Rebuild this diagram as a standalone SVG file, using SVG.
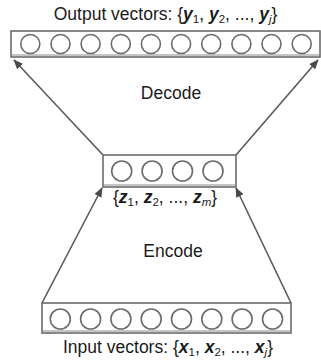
<svg xmlns="http://www.w3.org/2000/svg" width="321" height="362" viewBox="0 0 321 362">
  <style>
    .box { fill: #ffffff; stroke: #6b6b6b; stroke-width: 1.6; }
    .unit { fill: #ffffff; stroke: #6b6b6b; stroke-width: 1.6; }
    .lbl { font-family: "Liberation Sans", Arial, sans-serif; font-size: 17.5px; fill: #1a1a1a; text-anchor: middle; }
    .v { font-weight: bold; font-style: italic; }
    .sub { font-size: 11.5px; }
    .edge { stroke: #5a5a5a; stroke-width: 1.6; fill: none; marker-end: url(#arrow); }
  </style>
  <defs>
    <marker id="arrow" viewBox="0 0 12 10" refX="11" refY="5" markerWidth="10" markerHeight="8" orient="auto" markerUnits="userSpaceOnUse">
      <path d="M0,0 L12,5 L0,10 z" fill="#4a4a4a"/>
    </marker>
  </defs>

  <g id="connectors">
    <line class="edge" x1="103" y1="155" x2="14" y2="60"/>
    <line class="edge" x1="236" y1="155" x2="318" y2="60"/>
    <line class="edge" x1="42" y1="303" x2="102" y2="188"/>
    <line class="edge" x1="291" y1="303" x2="236" y2="188"/>
  </g>

  <!-- output layer -->
  <g id="output">
    <text class="lbl" x="165.5" y="20">Output vectors: {<tspan class="v">y</tspan><tspan class="sub" dy="3">1</tspan><tspan dy="-3">, </tspan><tspan class="v">y</tspan><tspan class="sub" dy="3">2</tspan><tspan dy="-3">, ..., </tspan><tspan class="v">y</tspan><tspan class="sub" font-style="italic" dy="3">j</tspan><tspan dy="-3">}</tspan></text>
    <rect class="box" x="11" y="31" width="309" height="26"/>
    <line x1="11" y1="55" x2="320" y2="55" stroke="#8a8a8a" stroke-width="1"/>
    <circle class="unit" cx="30.3" cy="44" r="9.5"/>
    <circle class="unit" cx="60.5" cy="44" r="9.5"/>
    <circle class="unit" cx="90.6" cy="44" r="9.5"/>
    <circle class="unit" cx="120.8" cy="44" r="9.5"/>
    <circle class="unit" cx="150.9" cy="44" r="9.5"/>
    <circle class="unit" cx="181.1" cy="44" r="9.5"/>
    <circle class="unit" cx="211.2" cy="44" r="9.5"/>
    <circle class="unit" cx="241.4" cy="44" r="9.5"/>
    <circle class="unit" cx="271.5" cy="44" r="9.5"/>
    <circle class="unit" cx="301.7" cy="44" r="9.5"/>
  </g>

  <text class="lbl" x="171" y="99" font-size="18.5">Decode</text>

  <!-- latent code -->
  <g id="code">
    <rect class="box" x="103" y="155" width="133" height="32"/>
    <line x1="103" y1="185" x2="236" y2="185" stroke="#8a8a8a" stroke-width="1"/>
    <circle class="unit" cx="121.7" cy="171" r="10"/>
    <circle class="unit" cx="152.1" cy="171" r="10"/>
    <circle class="unit" cx="182.5" cy="171" r="10"/>
    <circle class="unit" cx="213" cy="171" r="10"/>
    <text class="lbl" x="165" y="203">{<tspan class="v">z</tspan><tspan class="sub" dy="3">1</tspan><tspan dy="-3">, </tspan><tspan class="v">z</tspan><tspan class="sub" dy="3">2</tspan><tspan dy="-3">, ..., </tspan><tspan class="v">z</tspan><tspan class="sub" font-style="italic" dy="3">m</tspan><tspan dy="-3">}</tspan></text>
  </g>

  <text class="lbl" x="173" y="257" font-size="18.5">Encode</text>

  <!-- input layer -->
  <g id="input">
    <rect class="box" x="42" y="303" width="249" height="30"/>
    <line x1="42" y1="331" x2="291" y2="331" stroke="#8a8a8a" stroke-width="1"/>
    <circle class="unit" cx="60.3" cy="319" r="10"/>
    <circle class="unit" cx="90.6" cy="319" r="10"/>
    <circle class="unit" cx="120.9" cy="319" r="10"/>
    <circle class="unit" cx="151.2" cy="319" r="10"/>
    <circle class="unit" cx="181.5" cy="319" r="10"/>
    <circle class="unit" cx="211.8" cy="319" r="10"/>
    <circle class="unit" cx="242.1" cy="319" r="10"/>
    <circle class="unit" cx="272.5" cy="319" r="10"/>
    <text class="lbl" x="168" y="353">Input vectors: {<tspan class="v">x</tspan><tspan class="sub" dy="3">1</tspan><tspan dy="-3">, </tspan><tspan class="v">x</tspan><tspan class="sub" dy="3">2</tspan><tspan dy="-3">, ..., </tspan><tspan class="v">x</tspan><tspan class="sub" font-style="italic" dy="3">j</tspan><tspan dy="-3">}</tspan></text>
  </g>
</svg>
